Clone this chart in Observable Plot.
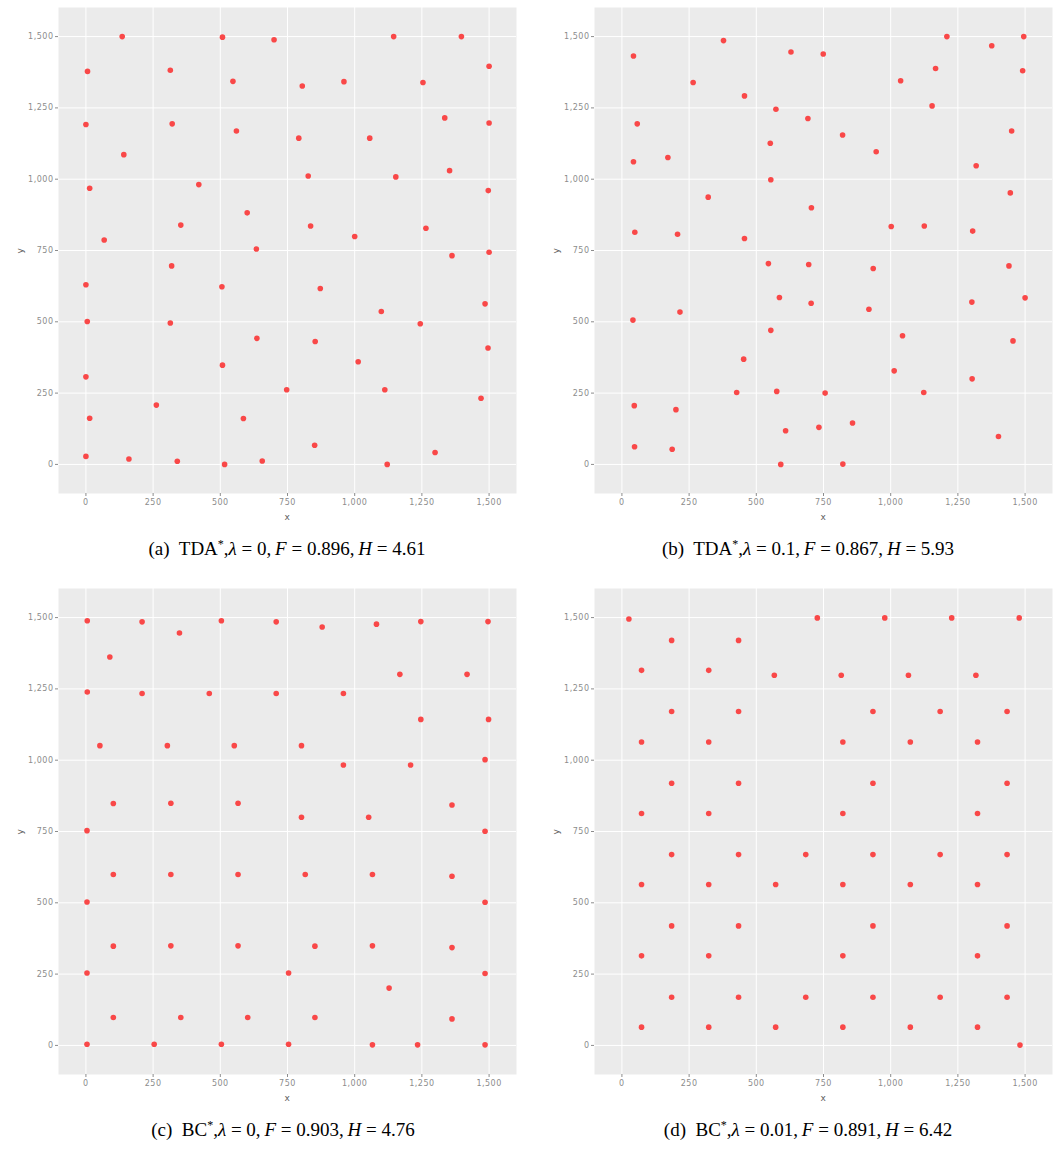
<!DOCTYPE html>
<html><head><meta charset="utf-8">
<script src="https://cdn.jsdelivr.net/npm/d3@7"></script>
<script src="https://cdn.jsdelivr.net/npm/@observablehq/plot@0.6"></script>
<style>
body{margin:0;background:#fff;width:1056px;height:1150px;position:relative;overflow:hidden}
.panel{position:absolute}
.panel svg text{letter-spacing:0.5px}
.panel svg g[aria-label="x-axis label"] text,.panel svg g[aria-label="y-axis label"] text{fill:#5e5e5e;font-size:9px}
.cap{position:absolute;font-family:"Liberation Serif","Times New Roman",serif;font-size:19px;white-space:nowrap;transform:translateX(-50%);line-height:1;color:#000}
.cap sup{font-size:12px;vertical-align:0;position:relative;top:-7px}
</style></head><body>
<script>
// tick labels shared by all panels
const ticks = [0, 250, 500, 750, 1000, 1250, 1500];

// (a) TDA*, lambda = 0
const tdaL0X = [135,508,700,1145,1397,6,314,547,805,960,1254,1500,0,321,560,792,1056,1335,1500,141,14,420,827,1153,1353,1497,68,353,600,836,1000,1265,634,1362,1500,
  319,0,506,872,1099,1485,5,314,1244,636,853,1496,508,1013,0,747,1112,1470,262,14,586,851,1299,0,160,340,516,656,1121];
const tdaL0Y = [1500,1498,1489,1500,1500,1378,1382,1343,1327,1342,1339,1396,1192,1194,1169,1144,1144,1215,1197,1086,968,981,1011,1008,1030,960,787,839,882,836,799,828,755,732,744,
  696,630,623,617,536,563,501,496,493,442,431,408,348,360,307,262,262,232,208,162,161,67,42,28,19,11,0,12,0];

// (b) TDA*, lambda = 0.1
const tdaL01X = [43,378,629,749,1209,1376,1495,1491,265,456,1037,1167,1154,573,692,57,821,1450,552,946,43,171,1318,554,321,705,1445,1002,1125,48,207,456,1305,
  545,695,935,1440,586,704,1302,1500,216,919,41,554,1044,1455,453,1013,1303,427,576,756,1123,46,201,858,733,609,1401,47,187,591,822];
const tdaL01Y = [1432,1486,1446,1439,1500,1468,1500,1380,1339,1292,1345,1388,1257,1245,1213,1194,1155,1169,1126,1096,1061,1076,1047,998,937,900,952,834,836,814,807,792,818,
  704,701,687,696,585,565,569,584,534,544,506,470,451,433,369,328,300,252,256,250,252,206,192,145,130,118,98,62,53,0,1];

// (c) BC*, lambda = 0
const bcL0X = [5,209,504,708,1246,1496,348,879,1081,89,1168,1418,5,209,459,708,958,1246,1498,52,303,552,802,958,1208,1485,102,316,566,802,1052,1362,4,1485,
  102,316,566,816,1066,1362,4,1485,102,316,566,852,1066,1362,4,754,1485,1128,102,353,602,852,1362,4,254,504,754,1066,1234,1485];
const bcL0Y = [1489,1485,1489,1485,1486,1486,1446,1467,1477,1362,1301,1301,1239,1234,1234,1234,1234,1143,1143,1051,1051,1051,1051,983,983,1002,848,849,849,800,800,843,753,751,
  599,599,599,599,599,593,503,502,348,349,349,348,349,343,254,254,252,201,98,98,98,98,93,4,4,4,4,2,2,2];

// (d) BC*, lambda = 0.01
const bcL001X = [26,727,978,1227,1478,185,434,73,323,567,816,1066,1317,185,434,934,1184,1433,73,323,822,1073,1323,185,434,934,1433,73,323,822,1323,
  185,434,684,934,1184,1433,73,323,572,822,1073,1323,185,434,934,1433,73,323,822,1323,185,434,684,934,1184,1433,73,323,572,822,1073,1323,1481];
const bcL001Y = [1495,1499,1499,1499,1499,1420,1420,1315,1315,1298,1298,1298,1298,1171,1171,1171,1171,1171,1064,1064,1064,1064,1064,919,919,919,919,813,813,813,813,
  669,669,669,669,669,669,564,564,564,564,564,564,419,419,419,419,314,314,314,314,169,169,169,169,169,169,64,64,64,64,64,64,1];

const panels = [
  {xs: tdaL0X, ys: tdaL0Y, left: 0, top: 0},
  {xs: tdaL01X, ys: tdaL01Y, left: 536, top: 0},
  {xs: bcL0X, ys: bcL0Y, left: 0, top: 581},
  {xs: bcL001X, ys: bcL001Y, left: 536, top: 581}
];

const fmt = d3.format(",");
for (const p of panels) {
  const data = p.xs.map((x, i) => ({x, y: p.ys[i]}));
  const chart = Plot.plot({
    width: 520, height: 525,
    marginLeft: 58, marginRight: 4, marginTop: 7, marginBottom: 32,
    style: {fontFamily: "'DejaVu Sans', sans-serif", fontSize: "8px", color: "#8c8c8c", background: "transparent", overflow: "visible"},
    x: {domain: [-102, 1602]},
    y: {domain: [-102, 1602]},
    marks: [
      Plot.frame({fill: "#ebebeb", stroke: null}),
      Plot.gridX(ticks, {stroke: "white", strokeOpacity: 1, strokeWidth: 1}),
      Plot.gridY(ticks, {stroke: "white", strokeOpacity: 1, strokeWidth: 1}),
      Plot.axisX(ticks, {tickSize: 3, tickPadding: 3, tickFormat: fmt, label: "x", labelAnchor: "center", labelArrow: "none", labelOffset: 26, color: "#8c8c8c"}),
      Plot.axisY(ticks, {tickSize: 3, tickPadding: 2, tickFormat: fmt, label: "y", labelAnchor: "center", labelArrow: "none", labelOffset: 42, color: "#8c8c8c"}),
      Plot.dot(data, {x: "x", y: "y", r: 2.8, fill: "#f94848"})
    ]
  });
  const div = document.createElement("div");
  div.className = "panel";
  div.style.left = p.left + "px";
  div.style.top = p.top + "px";
  div.appendChild(chart);
  document.body.appendChild(div);
}

const caps = [
  {html: "(a)&nbsp; TDA<sup>*</sup>,<i>λ</i> = 0,&thinsp;<i>F</i> = 0.896,&thinsp;<i>H</i> = 4.61", cx: 287, top: 539},
  {html: "(b)&nbsp; TDA<sup>*</sup>,<i>λ</i> = 0.1,&thinsp;<i>F</i> = 0.867,&thinsp;<i>H</i> = 5.93", cx: 808, top: 539},
  {html: "(c)&nbsp; BC<sup>*</sup>,<i>λ</i> = 0,&thinsp;<i>F</i> = 0.903,&thinsp;<i>H</i> = 4.76", cx: 283, top: 1120},
  {html: "(d)&nbsp; BC<sup>*</sup>,<i>λ</i> = 0.01,&thinsp;<i>F</i> = 0.891,&thinsp;<i>H</i> = 6.42", cx: 808, top: 1120}
];
for (const c of caps) {
  const d = document.createElement("div");
  d.className = "cap";
  d.innerHTML = c.html;
  d.style.left = c.cx + "px";
  d.style.top = c.top + "px";
  document.body.appendChild(d);
}
</script>
</body></html>
